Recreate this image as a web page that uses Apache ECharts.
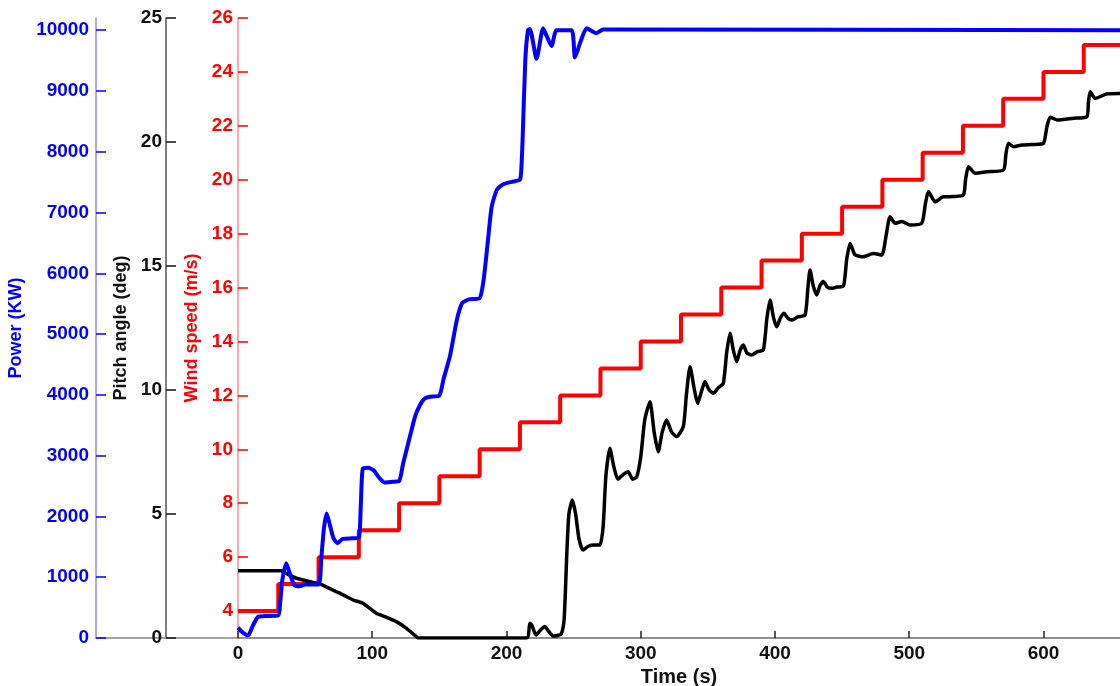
<!DOCTYPE html>
<html>
<head>
<meta charset="utf-8">
<title>Power, pitch angle and wind speed</title>
<script src="https://cdn.jsdelivr.net/npm/echarts@6/dist/echarts.min.js"></script>
<style>
  html, body { margin: 0; padding: 0; background: #ffffff; }
  #chart { width: 1120px; height: 686px; }
</style>
</head>
<body>
<div id="chart"></div>
<script>
// Tick labels
const timeTicks = [0, 100, 200, 300, 400, 500, 600];
const powerTicks = [0, 1000, 2000, 3000, 4000, 5000, 6000, 7000, 8000, 9000, 10000];
const pitchTicks = [0, 5, 10, 15, 20, 25];
const windTicks = [4, 6, 8, 10, 12, 14, 16, 18, 20, 22, 24, 26];

// Wind speed steps (m/s), one step every 30 s
const windTimes = [0, 30, 60, 90, 120, 150, 180, 210, 240, 270, 300, 330, 360, 390, 420, 450, 480, 510, 540, 570, 600, 630, 657];
const windSpeeds = [4, 5, 6, 7, 8, 9, 10, 11, 12, 13, 14, 15, 16, 17, 18, 19, 20, 21, 22, 23, 24, 25, 25];

// Generated power (KW)
const powerTimes = [0, 3, 7.5, 11, 15, 20, 30, 31.5, 33, 36, 38, 42, 46, 50, 60, 62, 64, 66, 68, 71, 74, 78, 85, 90,
  91.5, 93, 97, 101, 105, 109, 115, 120, 123, 128, 132, 135.5, 139, 143, 150, 153, 158, 163, 167, 172, 180, 183,
  186, 189, 193, 198, 205, 210, 211, 212, 214, 216, 217.4, 222.4, 227.3, 230, 233.6, 237.3, 248.5, 251, 255,
  259.7, 264, 267, 272, 657];
const powerValues = [170, 100, 40, 200, 350, 360, 370, 600, 950, 1230, 1100, 870, 850, 880, 880, 1300, 1800, 2050, 1900,
  1650, 1560, 1630, 1640, 1650, 2200, 2790, 2800, 2760, 2640, 2560, 2570, 2580, 2870, 3310, 3650, 3830, 3940, 3970,
  3990, 4250, 4650, 5230, 5510, 5570, 5590, 5900, 6500, 7100, 7380, 7470, 7510, 7540, 7700, 8200, 9500, 10000,
  10020, 9530, 10030, 9900, 9740, 10000, 10000, 9550, 9800, 10030, 9980, 9950, 10010, 10000];

// Blade pitch angle (deg)
const pitchTimes = [0, 32, 36, 43.5, 55, 61, 68, 78, 86, 93, 103, 110, 118, 125.5, 133, 134, 215, 217.4, 219, 222,
  225, 228.6, 231, 234.8, 238, 241, 243, 245, 246.5, 249, 251.5, 254, 257, 261, 265, 269.6, 272, 274, 277, 280,
  283, 287, 290.7, 294, 297, 300, 303, 306.9, 310, 313, 316, 319.3, 323, 326.7, 331.7, 334, 336.7, 340, 342.4,
  345, 347.8, 351, 354, 358, 361.5, 364, 366.5, 369, 371.5, 374, 376.4, 379, 382.6, 387, 391.3, 394, 396.3, 399,
  401.3, 404, 406.7, 409.5, 412.5, 417, 422.4, 424.5, 426.1, 428.5, 431.1, 433.5, 436, 439, 442.3, 446, 451,
  453.5, 456, 459.6, 465.9, 473.3, 479.5, 483, 485.7, 489.5, 494.5, 500.6, 509.3, 512, 514.3, 519.3, 525.5, 533,
  540.4, 542, 544.1, 549.1, 557.8, 570.2, 572, 573.9, 577.6, 583.9, 592, 600, 602.5, 605, 610, 622.3, 632.3,
  633.5, 634.8, 638.5, 647.3, 657];
const pitchValues = [2.71, 2.71, 2.6, 2.41, 2.25, 2.18, 2.0, 1.75, 1.53, 1.4, 1.0, 0.85, 0.66, 0.39, 0.05, 0, 0, 0.59,
  0.5, 0.12, 0.3, 0.46, 0.3, 0.08, 0.1, 0.19, 0.8, 3.5, 5.0, 5.56, 5.0, 4.0, 3.55, 3.7, 3.75, 3.75, 4.5, 6.5, 7.65,
  6.9, 6.4, 6.6, 6.7, 6.4, 6.5, 7.3, 8.8, 9.53, 8.3, 7.51, 8.3, 8.79, 8.3, 8.12, 8.52, 9.8, 10.94, 10.0, 9.46, 9.9,
  10.33, 10.0, 9.87, 10.1, 10.27, 11.5, 12.29, 11.6, 11.14, 11.6, 11.81, 11.5, 11.41, 11.55, 11.61, 12.9, 13.63,
  12.9, 12.55, 12.9, 13.09, 12.9, 12.82, 12.95, 13.02, 14.1, 14.84, 14.2, 13.83, 14.2, 14.37, 14.15, 14.1, 14.15,
  14.19, 15.3, 15.91, 15.45, 15.37, 15.5, 15.44, 16.3, 16.99, 16.72, 16.79, 16.65, 16.72, 17.5, 18.0, 17.59, 17.79,
  17.8, 17.86, 18.5, 19.0, 18.74, 18.8, 18.87, 19.5, 19.95, 19.81, 19.88, 19.9, 19.95, 20.6, 21.0, 20.89, 20.96,
  21.02, 21.6, 22.03, 21.76, 21.94, 21.96];

const pairs = (xs, ys) => xs.map((x, i) => [x, ys[i]]);
const plain = (v) => String(v);

const FONT = '"Liberation Sans", Arial, Helvetica, sans-serif';
const BLUE = '#0000ff';
const RED = '#ff0000';
const BLACK = '#000000';

function boldText(color, size) {
  return { color: color, fontFamily: FONT, fontWeight: 'bold', fontSize: size };
}

const chart = echarts.init(document.getElementById('chart'), null, { renderer: 'canvas' });

chart.setOption({
  animation: false,
  backgroundColor: '#ffffff',
  grid: [
    { left: 238, right: 0, top: 18, bottom: 48, outerBoundsMode: 'none', containLabel: false },
    // wider grid used only to run the baseline under the outer axes
    { left: 96, right: 0, top: 18, bottom: 48, outerBoundsMode: 'none', containLabel: false }
  ],
  xAxis: [
    {
      type: 'value', gridIndex: 0, min: 0, max: 657,
      axisLine: { show: true, onZero: false, lineStyle: { color: '#888888', width: 1.5 } },
      axisTick: { show: true, inside: true, length: 7, customValues: timeTicks, lineStyle: { color: '#222222', width: 1.5 } },
      axisLabel: Object.assign({ margin: 6, customValues: timeTicks, formatter: plain }, boldText('#111111', 19)),
      splitLine: { show: false },
      name: 'Time (s)', nameLocation: 'middle', nameGap: 27,
      nameTextStyle: boldText('#111111', 20)
    },
    {
      type: 'value', gridIndex: 1, min: 0, max: 1,
      axisLine: { show: true, onZero: false, lineStyle: { color: '#888888', width: 1.5 } },
      axisTick: { show: false }, axisLabel: { show: false }, splitLine: { show: false }
    }
  ],
  yAxis: [
    {
      type: 'value', gridIndex: 0, position: 'left', offset: 142, min: 0, max: 10200,
      axisLine: { show: true, onZero: false, lineStyle: { color: '#8c8cff', width: 1.5 } },
      axisTick: { show: true, inside: true, length: 10, customValues: powerTicks, lineStyle: { color: BLUE, width: 1.5 } },
      axisLabel: Object.assign({ margin: 7, customValues: powerTicks, formatter: plain }, boldText(BLUE, 19)),
      splitLine: { show: false },
      name: 'Power (KW)', nameLocation: 'middle', nameGap: 70,
      nameTextStyle: boldText(BLUE, 18)
    },
    {
      type: 'value', gridIndex: 0, position: 'left', offset: 72, min: 0, max: 25,
      axisLine: { show: true, onZero: false, lineStyle: { color: '#555555', width: 1.5 } },
      axisTick: { show: true, inside: true, length: 10, customValues: pitchTicks, lineStyle: { color: '#111111', width: 1.5 } },
      axisLabel: Object.assign({ margin: 4, customValues: pitchTicks, formatter: plain }, boldText('#111111', 19)),
      splitLine: { show: false },
      name: 'Pitch angle (deg)', nameLocation: 'middle', nameGap: 33,
      nameTextStyle: boldText('#111111', 18)
    },
    {
      type: 'value', gridIndex: 0, position: 'left', offset: 0, min: 3, max: 26,
      axisLine: { show: true, onZero: false, lineStyle: { color: '#ff8c8c', width: 1.5 } },
      axisTick: { show: true, inside: true, length: 10, customValues: windTicks, lineStyle: { color: RED, width: 1.5 } },
      axisLabel: Object.assign({ margin: 5, customValues: windTicks, formatter: plain }, boldText(RED, 19)),
      splitLine: { show: false },
      name: 'Wind speed (m/s)', nameLocation: 'middle', nameGap: 32,
      nameTextStyle: boldText(RED, 18)
    },
    { type: 'value', gridIndex: 1, show: false, min: 0, max: 1 }
  ],
  series: [
    {
      name: 'Wind speed', type: 'line', xAxisIndex: 0, yAxisIndex: 2,
      step: 'end', showSymbol: false, data: pairs(windTimes, windSpeeds),
      lineStyle: { color: RED, width: 4 }, z: 2
    },
    {
      name: 'Pitch angle', type: 'line', xAxisIndex: 0, yAxisIndex: 1,
      showSymbol: false, smooth: 0.2, data: pairs(pitchTimes, pitchValues),
      lineStyle: { color: BLACK, width: 3.5 }, z: 3
    },
    {
      name: 'Power', type: 'line', xAxisIndex: 0, yAxisIndex: 0,
      showSymbol: false, smooth: 0.2, data: pairs(powerTimes, powerValues),
      lineStyle: { color: BLUE, width: 4 }, z: 4
    }
  ]
});
</script>
</body>
</html>
